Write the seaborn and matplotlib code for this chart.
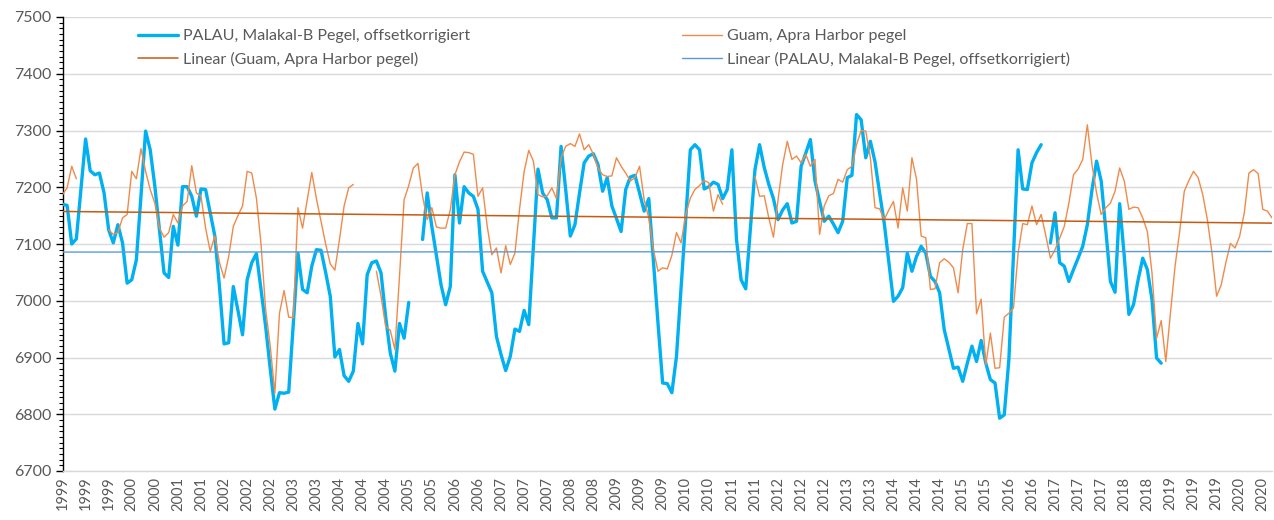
import numpy as np
import pandas as pd
import seaborn as sns
import matplotlib.pyplot as plt
from matplotlib.lines import Line2D
from matplotlib.ticker import MultipleLocator

nan = np.nan

# monthly values, first month Feb 1999
first_month = '1999-02-01'

palau = [
    7170, 7168, 7100, 7109, 7197, 7285, 7229, 7222, 7225, 7190, 7125, 7102,
    7134, 7102, 7031, 7037, 7072, 7185, 7299, 7266, 7202, 7125, 7049, 7041,
    7131, 7098, 7201, 7201, 7184, 7149, 7197, 7196, 7155, 7114, 7025, 6924,
    6926, 7025, 6983, 6940, 7037, 7067, 7083, 7020, 6955, 6880, 6809, 6838,
    6837, 6839, 6960, 7084, 7020, 7014, 7061, 7090, 7089, 7050, 7008, 6901,
    6914, 6868, 6858, 6876, 6960, 6924, 7046, 7067, 7070, 7049, 6972, 6908,
    6876, 6960, 6934, 6997, nan, nan, 7108, 7190, 7131, 7080, 7028, 6993,
    7025, 7222, 7137, 7201, 7190, 7184, 7161, 7052, 7033, 7014, 6937, 6905,
    6877, 6902, 6950, 6946, 6983, 6958, 7095, 7232, 7190, 7178, 7146, 7146,
    7272, 7196, 7114, 7134, 7190, 7243, 7255, 7259, 7240, 7193, 7217, 7167,
    7145, 7122, 7196, 7218, 7221, 7190, 7158, 7180, 7070, 6960, 6855, 6854,
    6838, 6902, 7024, 7145, 7266, 7275, 7266, 7197, 7201, 7209, 7205, 7180,
    7196, 7266, 7108, 7037, 7021, 7126, 7231, 7275, 7235, 7205, 7180, 7143,
    7160, 7171, 7137, 7140, 7237, 7260, 7284, 7211, 7175, 7140, 7149, 7135,
    7120, 7140, 7217, 7221, 7328, 7319, 7252, 7281, 7245, 7190, 7137, 7068,
    6999, 7008, 7023, 7084, 7052, 7078, 7096, 7084, 7043, 7034, 7014, 6949,
    6915, 6881, 6883, 6858, 6890, 6920, 6893, 6930, 6890, 6861, 6855, 6793,
    6799, 6896, 7080, 7266, 7197, 7196, 7243, 7261, 7275, nan, 7102, 7155,
    7067, 7061, 7034, 7055, 7075, 7096, 7134, 7195, 7246, 7211, 7125, 7034,
    7015, 7171, 7078, 6976, 6993, 7037, 7075, 7055, 7002, 6899, 6890, nan,
    nan, nan, nan, nan, nan, nan, nan, nan, nan, nan, nan, nan,
    nan, nan, nan, nan, nan, nan, nan, nan, nan, nan, nan,
]

guam = [
    7187, 7199, 7237, 7215, nan, nan, nan, nan, nan, nan, 7125, 7117,
    7120, 7146, 7152, 7228, 7215, 7268, 7228, 7196, 7172, 7128, 7112, 7120,
    7152, 7137, 7167, 7175, 7238, 7190, 7184, 7128, 7087, 7114, 7067, 7040,
    7078, 7131, 7150, 7167, 7228, 7225, 7181, 7100, 6985, 6920, 6837, 6978,
    7018, 6971, 6970, 7164, 7128, 7177, 7226, 7180, 7140, 7100, 7065, 7054,
    7108, 7167, 7199, 7205, nan, nan, nan, nan, 7052, 7008, 6955, 6948,
    6914, 7043, 7178, 7203, 7234, 7242, 7184, 7143, 7164, 7130, 7128, 7128,
    7160, 7222, 7245, 7262, 7261, 7258, 7184, 7199, 7131, 7081, 7093, 7049,
    7097, 7064, 7084, 7161, 7228, 7265, 7246, 7187, 7183, 7185, 7199, 7180,
    7252, 7272, 7277, 7272, 7294, 7266, 7275, 7258, 7234, 7222, 7219, 7220,
    7252, 7237, 7225, 7211, 7217, 7237, 7178, 7146, 7090, 7052, 7058, 7056,
    7080, 7120, 7102, 7152, 7181, 7196, 7203, 7212, 7208, 7158, 7187, 7170,
    nan, nan, nan, nan, nan, nan, 7219, 7184, 7185, 7146, 7112, 7178,
    7240, 7281, 7249, 7255, 7243, 7258, 7237, 7249, 7117, 7167, 7185, 7189,
    7214, 7209, 7231, 7237, 7275, 7300, 7299, 7252, 7164, 7162, 7143, 7160,
    7175, 7128, 7199, 7158, 7252, 7214, 7114, 7111, 7020, 7021, 7067, 7074,
    7068, 7058, 7014, 7090, 7136, 7136, 6977, 7003, 6887, 6943, 6881, 6882,
    6971, 6978, 6987, 7084, 7136, 7134, 7167, 7134, 7152, 7115, 7075, 7090,
    7110, 7131, 7172, 7222, 7232, 7249, 7310, 7240, 7190, 7152, 7164, 7172,
    7193, 7234, 7211, 7161, 7165, 7164, 7146, 7122, 7049, 6934, 6965, 6893,
    6978, 7061, 7122, 7193, 7212, 7228, 7217, 7187, 7143, 7084, 7008, 7028,
    7067, 7101, 7093, 7114, 7155, 7225, 7231, 7224, 7161, 7158, 7146,
]

name_palau = 'PALAU, Malakal-B Pegel, offsetkorrigiert'
name_guam = 'Guam, Apra Harbor pegel'

c_palau = '#00B0F0'
c_guam = '#F08A4B'
c_guam_lin = '#C55A11'
c_palau_lin = '#5B9BD5'

months = pd.date_range(first_month, periods=len(guam), freq='MS')
df = pd.DataFrame({'idx': np.arange(len(guam)), 'palau': palau, 'guam': guam})


def trend(col):
    ok = df[col].notna()
    k, b = np.polyfit(df['idx'][ok], df[col][ok], 1)
    return k * df['idx'] + b


df['palau_lin'] = trend('palau')
df['guam_lin'] = trend('guam')
# break lines where values are missing
df['palau_seg'] = df['palau'].isna().cumsum()
df['guam_seg'] = df['guam'].isna().cumsum()

sns.set_theme(style='white')
plt.rcParams['font.family'] = ['Lato', 'DejaVu Sans']

fig = plt.figure(figsize=(12.74, 5.2), dpi=100)
ax = fig.add_axes([62.5 / 1274, 1 - 471 / 520, (1272 - 62.5) / 1274, (471 - 17) / 520])

sns.lineplot(data=df.dropna(subset=['palau']), x='idx', y='palau', units='palau_seg',
             estimator=None, color=c_palau, lw=2.4, ax=ax, zorder=3)
sns.lineplot(data=df.dropna(subset=['guam']), x='idx', y='guam', units='guam_seg',
             estimator=None, color=c_guam, lw=1.0, ax=ax, zorder=4)
sns.lineplot(data=df, x='idx', y='guam_lin', color=c_guam_lin, lw=1.1, ax=ax, zorder=5)
sns.lineplot(data=df, x='idx', y='palau_lin', color=c_palau_lin, lw=1.0, ax=ax, zorder=5)

ax.set_xlim(0, len(guam) - 1)
ax.set_ylim(6700, 7500)
ax.yaxis.set_major_locator(MultipleLocator(100))
ax.yaxis.set_minor_locator(MultipleLocator(10))
ax.grid(axis='y', which='major', color='#D9D9D9', lw=1.0)
ax.set_axisbelow(True)

ticks = df['idx'][::5]
ax.set_xticks(ticks)
ax.set_xticklabels(months.year[::5], rotation=90)
ax.tick_params(axis='x', length=0, pad=4, labelsize=10.5, labelcolor='#595959')
ax.tick_params(axis='y', which='major', direction='out', length=5, width=1,
               color='#000000', left=True, pad=3, labelsize=11.5, labelcolor='#595959')
ax.tick_params(axis='y', which='minor', direction='out', length=3, width=0.8,
               color='#000000', left=True)
ax.set_xlabel('')
ax.set_ylabel('')

for s in ['top', 'right']:
    ax.spines[s].set_visible(False)
ax.spines['left'].set_color('#000000')
ax.spines['left'].set_linewidth(1.0)
ax.spines['bottom'].set_color('#D9D9D9')
ax.spines['bottom'].set_linewidth(1.0)

handles = [
    Line2D([], [], color=c_palau, lw=2.4),
    Line2D([], [], color=c_guam_lin, lw=1.1),
    Line2D([], [], color=c_guam, lw=1.0),
    Line2D([], [], color=c_palau_lin, lw=1.0),
]
labels = [name_palau, 'Linear (' + name_guam + ')', name_guam, 'Linear (' + name_palau + ')']
fig.legend(handles, labels, ncol=2, loc='upper left',
           bbox_to_anchor=(138 / 1274, 1 - 29 / 520), frameon=False, borderpad=0,
           borderaxespad=0, fontsize=11.5, handlelength=2.5, handletextpad=0.3,
           labelspacing=0.55, columnspacing=13.3, labelcolor='#595959')

fig.savefig('out.png', dpi=100)
